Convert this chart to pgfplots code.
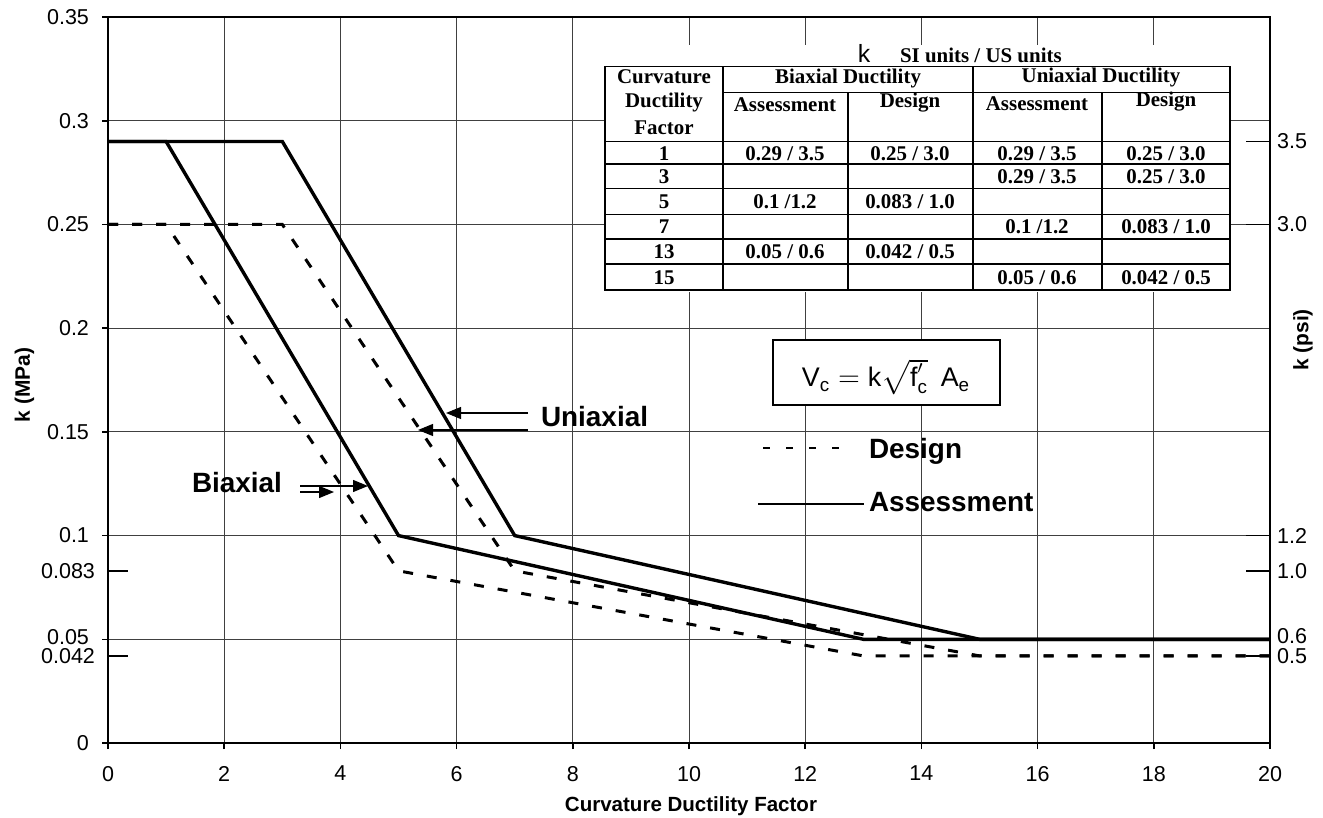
\documentclass[border=0pt]{standalone}
\usepackage{fontspec}
\setmainfont{Liberation Sans}
\newfontfamily\tabfont{Liberation Serif}
\usepackage{amsmath}
\usepackage{pgfplots}
\pgfplotsset{compat=1.18}
\usetikzlibrary{arrows.meta}

\begin{document}
\begin{tikzpicture}
% main axis: k in MPa
\begin{axis}[
  at={(0,0)}, anchor=south west,
  scale only axis, width=581bp, height=363bp,
  xmin=0, xmax=20, ymin=0, ymax=0.35,
  enlargelimits=false,
  xtick={0,2,...,20},
  xticklabels={0,2,4,6,8,10,12,14,16,18,20},
  ytick={0,0.05,0.1,0.15,0.2,0.25,0.3,0.35},
  yticklabels={0,\raisebox{2.5bp}{0.05},0.1,0.15,0.2,0.25,0.3,0.35},
  extra y ticks={0.042,0.083},
  extra y tick labels={\raisebox{-2.5bp}{0.042},0.083},
  extra y tick style={grid=none, tick align=inside, major tick length=10bp},
  xtick pos=bottom, ytick pos=left,
  tick align=outside, major tick length=3bp,
  grid=major, grid style={black!75, line width=0.5bp},
  axis line style={line width=0.9bp},
  tick style={black, line width=0.8bp},
  ticklabel style={font=\fontsize{10.8}{12}\selectfont},
  xticklabel style={yshift=-5bp},
  yticklabel style={xshift=-3bp},
  /pgf/number format/assume math mode=true,
  clip=false,
]
% assessment (solid)
\addplot[line width=1.7bp] coordinates {(0,0.29) (1,0.29) (5,0.1) (13,0.05) (20,0.05)};
\addplot[line width=1.7bp] coordinates {(0,0.29) (3,0.29) (7,0.1) (15,0.05) (20,0.05)};
% design (dashed)
\addplot[line width=1.5bp, dash pattern=on 5bp off 7bp] coordinates {(0,0.25) (1,0.25) (5,0.083) (13,0.042) (20,0.042)};
\addplot[line width=1.5bp, dash pattern=on 5bp off 7bp] coordinates {(0,0.25) (3,0.25) (7,0.083) (15,0.042) (20,0.042)};
\end{axis}

% right axis: k in psi
\begin{axis}[
  at={(0,0)}, anchor=south west,
  scale only axis, width=581bp, height=363bp,
  xmin=0, xmax=20, ymin=0, ymax=0.35,
  axis y line*=right, axis x line=none,
  ytick={0.042,0.05,0.083,0.1,0.25,0.29},
  yticklabels={0.5,\raisebox{3bp}{0.6},1.0,1.2,3.0,3.5},
  tick align=inside, major tick length=12bp,
  axis line style={line width=0.9bp},
  tick style={black, line width=0.8bp},
  ticklabel style={font=\fontsize{10.8}{12}\selectfont},
  /pgf/number format/assume math mode=true,
]
\end{axis}

% annotations in pixel units of the reference
\begin{scope}[x=0.5bp, y=-0.5bp, shift={(-54bp,371.5bp)}]
  % axis labels
  \node[rotate=90, font=\bfseries\fontsize{10.5}{12}\selectfont] at (24.5,385) {k (MPa)};
  \node[rotate=90, font=\bfseries\fontsize{10.5}{12}\selectfont] at (1303,340) {k (psi)};
  \node[font=\bfseries\fontsize{10.3}{12}\selectfont] at (691,806) {Curvature Ductility Factor};

  % table
  \fill[white] (605,45) rectangle (1230,292);
  \begin{scope}[line width=0.75bp]
    \draw (605,66.5) rectangle (1230,290);
    \draw (723,92.5) -- (1230,92.5);
    \foreach \yy in {141.5,164,188.5,214.5,239,264} \draw (605,\yy) -- (1230,\yy);
    \foreach \xx in {723,973} \draw (\xx,66.5) -- (\xx,290);
    \foreach \xx in {848,1102} \draw (\xx,92.5) -- (\xx,290);
  \end{scope}
  \node[font=\fontsize{12.5}{14}\selectfont] at (864,53) {k};
  \node[anchor=west, font=\tabfont\bfseries\fontsize{10.5}{12}\selectfont] at (893,55) {SI units / US units};
  \begin{scope}[font=\tabfont\bfseries\fontsize{10.5}{12}\selectfont]
    \node at (664,77) {Curvature};
    \node at (664,103) {Ductility};
    \node at (664,128) {Factor};
    \node at (848,79) {Biaxial Ductility};
    \node at (1101,78) {Uniaxial Ductility};
    \node at (785,105) {Assessment};
    \node at (910,103) {Design};
    \node at (1037,104) {Assessment};
    \node at (1166,102) {Design};
    % rows
    \node at (664,153.5) {1};
    \node at (664,177) {3};
    \node at (664,202) {5};
    \node at (664,227) {7};
    \node at (664,252) {13};
    \node at (664,277.5) {15};
    \node at (785,153.5) {0.29 / 3.5};
    \node at (910,153.5) {0.25 / 3.0};
    \node at (1037,153.5) {0.29 / 3.5};
    \node at (1166,153.5) {0.25 / 3.0};
    \node at (1037,177) {0.29 / 3.5};
    \node at (1166,177) {0.25 / 3.0};
    \node at (785,202) {0.1 /1.2};
    \node at (910,202) {0.083 / 1.0};
    \node at (1037,227) {0.1 /1.2};
    \node at (1166,227) {0.083 / 1.0};
    \node at (785,252) {0.05 / 0.6};
    \node at (910,252) {0.042 / 0.5};
    \node at (1037,277.5) {0.05 / 0.6};
    \node at (1166,277.5) {0.042 / 0.5};
  \end{scope}

  % formula box
  \draw[fill=white, line width=0.8bp] (773,340) rectangle (1000,405);
  \node[font=\fontsize{13.5}{15}\selectfont] at (886,377)
    {$\text{V}_{\text{c}} = \text{k}\sqrt{\text{f}'_{\text{c}}}\;\,\text{A}_{\text{e}}$};

  % Uniaxial / Biaxial callouts
  \begin{scope}[line width=0.6bp, -{Triangle[length=7.5bp,width=6bp]}]
    \draw (528,413) -- (446,413);
    \draw (528,430) -- (418,430);
    \draw (300,486) -- (368,486);
    \draw (300,492) -- (334,492);
  \end{scope}
  \node[anchor=west, font=\bfseries\fontsize{14}{16}\selectfont] at (534,417) {Uniaxial};
  \node[anchor=west, font=\bfseries\fontsize{14}{16}\selectfont] at (185,483) {Biaxial};

  % legend
  \draw[line width=1.4bp, dash pattern=on 3.5bp off 8bp] (763,448) -- (845,448);
  \node[anchor=west, font=\bfseries\fontsize{14}{16}\selectfont] at (862,451) {Design};
  \draw[line width=1bp] (758,504) -- (864,504);
  \node[anchor=west, font=\bfseries\fontsize{14}{16}\selectfont] at (862,502) {Assessment};

  % fix the page to the reference frame
  \pgfresetboundingbox
  \path[use as bounding box] (0,0) rectangle (1323,817);
\end{scope}
\end{tikzpicture}
\end{document}
